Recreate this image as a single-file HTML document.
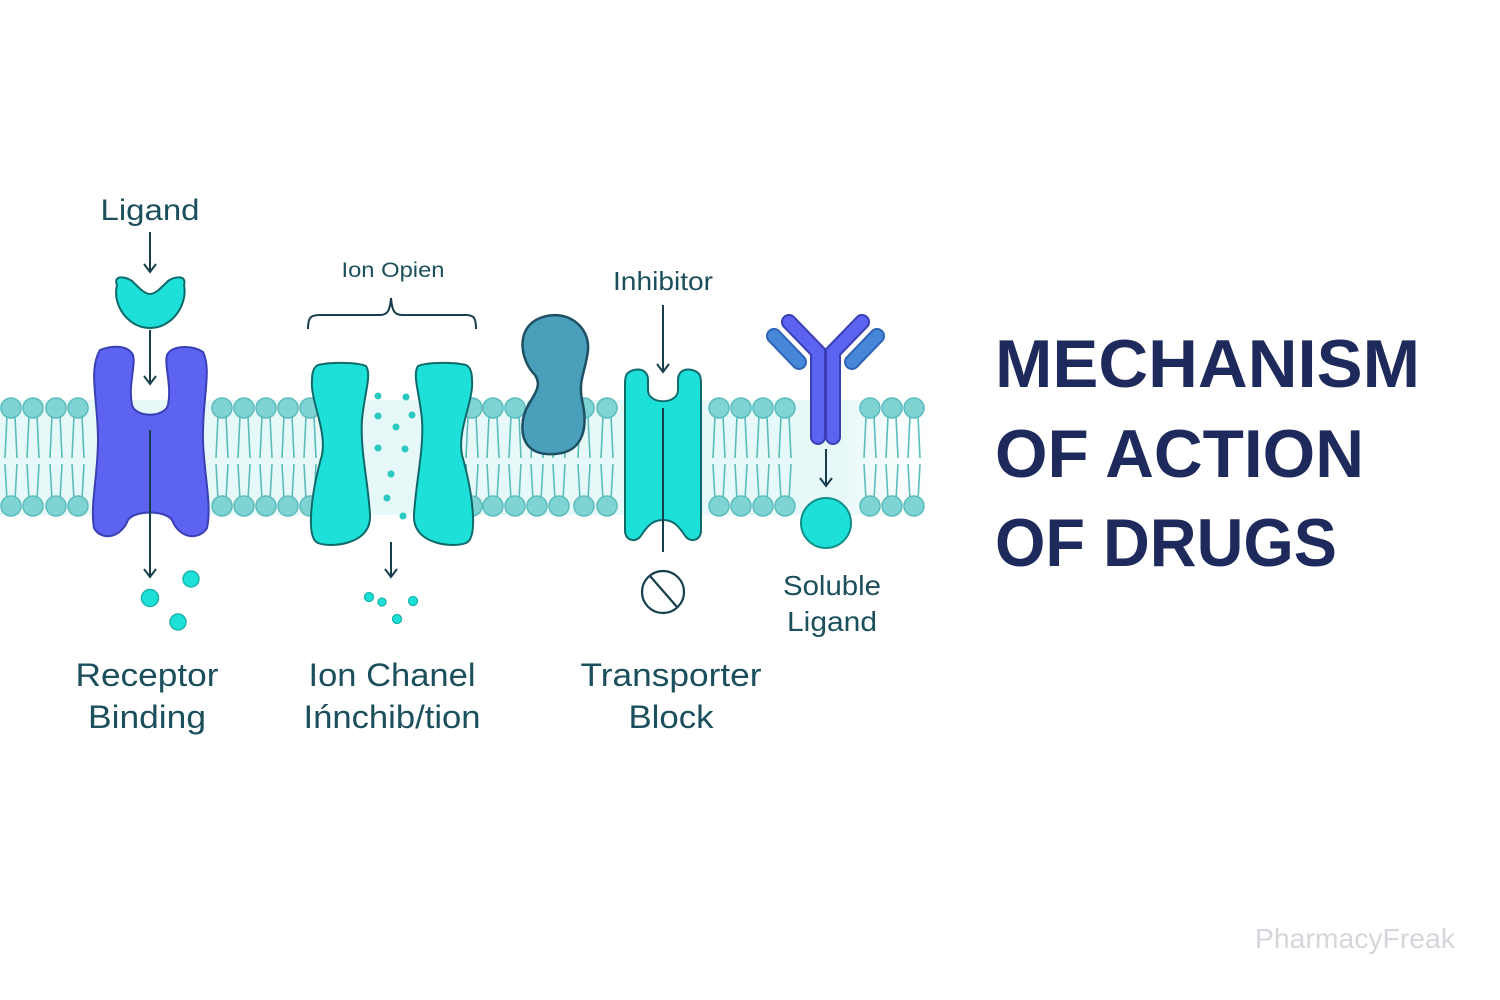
<!DOCTYPE html>
<html><head><meta charset="utf-8"><style>
html,body{margin:0;padding:0;background:#fff;}
svg{display:block;}
</style></head><body>
<svg width="1500" height="1000" viewBox="0 0 1500 1000" xmlns="http://www.w3.org/2000/svg" font-family="Liberation Sans, sans-serif">
<defs>
<linearGradient id="mem" x1="0" x2="1" y1="0" y2="0">
<stop offset="0" stop-color="#e6f8f8"/><stop offset="0.9" stop-color="#e6f8f8"/><stop offset="1" stop-color="#ffffff"/>
</linearGradient>
<g id="lip">
<line x1="-4" y1="8" x2="-6" y2="50" stroke="#5cbcbc" stroke-width="1.6"/>
<line x1="4" y1="8" x2="6" y2="50" stroke="#5cbcbc" stroke-width="1.6"/>
<line x1="-6" y1="56" x2="-4" y2="92" stroke="#5cbcbc" stroke-width="1.6"/>
<line x1="6" y1="56" x2="4" y2="92" stroke="#5cbcbc" stroke-width="1.6"/>
<circle cx="0" cy="0" r="10" fill="#7fd3d3" stroke="#5cbcbc" stroke-width="1.5"/>
<circle cx="0" cy="98" r="10" fill="#7fd3d3" stroke="#5cbcbc" stroke-width="1.5"/>
</g>
<marker id="ah" markerWidth="14" markerHeight="14" refX="10" refY="7" orient="auto" markerUnits="userSpaceOnUse">
<path d="M2,1 L10,7 L2,13" fill="none" stroke="#163e4c" stroke-width="2"/>
</marker>
</defs>
<rect x="0" y="400" width="930" height="115" fill="url(#mem)"/>
<g transform="translate(0,408)">
<use href="#lip" x="11"/><use href="#lip" x="33"/><use href="#lip" x="56"/><use href="#lip" x="78"/>
<use href="#lip" x="222"/><use href="#lip" x="244"/><use href="#lip" x="266"/><use href="#lip" x="288"/><use href="#lip" x="310"/>
<use href="#lip" x="472"/><use href="#lip" x="493"/><use href="#lip" x="515"/><use href="#lip" x="537"/><use href="#lip" x="559"/><use href="#lip" x="584"/><use href="#lip" x="607"/>
<use href="#lip" x="719"/><use href="#lip" x="741"/><use href="#lip" x="763"/><use href="#lip" x="785"/>
<use href="#lip" x="870"/><use href="#lip" x="892"/><use href="#lip" x="914"/>
</g>
<!-- Receptor -->
<text x="150" y="220" font-size="30" fill="#1b4f5c" text-anchor="middle" textLength="99" lengthAdjust="spacingAndGlyphs">Ligand</text>
<line x1="150" y1="232" x2="150" y2="272" stroke="#163e4c" stroke-width="2" marker-end="url(#ah)"/>
<path d="M117,285 C113,275 125,276 132,281 C140,289 145,294 150,294 C155,294 160,289 168,281 C175,276 187,275 184,285 C188,305 172,328 150,328 C128,328 112,305 117,285 Z" fill="#1de0d8" stroke="#0f6b6b" stroke-width="2"/>
<path d="M100,350 C112,345 128,345 133,355 C136,365 128,385 132,405 C136,418 164,418 168,405 C172,385 164,365 167,355 C172,345 192,345 203,352 C212,370 202,400 203,440 C204,475 212,505 207,528 C200,540 180,540 172,520 C165,510 135,510 128,520 C120,540 100,540 94,528 C90,505 98,475 98,440 C98,400 88,370 100,350 Z" fill="#5b63f0" stroke="#3a3fb5" stroke-width="2"/>
<line x1="150" y1="330" x2="150" y2="384" stroke="#163e4c" stroke-width="2" marker-end="url(#ah)"/>
<line x1="150" y1="430" x2="150" y2="577" stroke="#163e4c" stroke-width="2" marker-end="url(#ah)"/>
<circle cx="150" cy="598" r="8.5" fill="#1de0d8" stroke="#1ab5ad" stroke-width="1.5"/>
<circle cx="191" cy="579" r="8" fill="#1de0d8" stroke="#1ab5ad" stroke-width="1.5"/>
<circle cx="178" cy="622" r="8" fill="#1de0d8" stroke="#1ab5ad" stroke-width="1.5"/>
<text x="147" y="686" font-size="32" fill="#1b4f5c" text-anchor="middle" textLength="143" lengthAdjust="spacingAndGlyphs">Receptor</text>
<text x="147" y="728" font-size="32" fill="#1b4f5c" text-anchor="middle" textLength="118" lengthAdjust="spacingAndGlyphs">Binding</text>
<!-- Ion channel -->
<text x="393" y="277" font-size="21" fill="#1b4f5c" text-anchor="middle" textLength="103" lengthAdjust="spacingAndGlyphs">Ion Opien</text>
<path d="M308,329 C308,318 310,315 320,315 L380,315 C388,315 390,310 391,298 C392,310 394,315 402,315 L466,315 C474,315 476,318 476,329" fill="none" stroke="#163e4c" stroke-width="2"/>
<path d="M318,365 C330,362 356,362 366,366 C372,375 364,395 362,420 C360,450 368,480 370,515 C372,545 330,548 318,543 C305,538 312,490 322,455 C327,430 310,400 312,380 C312,372 314,367 318,365 Z" fill="#1de0d8" stroke="#0f6b6b" stroke-width="2"/>
<path d="M466,365 C454,362 428,362 418,366 C412,375 420,395 422,420 C424,450 416,480 414,515 C412,545 454,548 466,543 C479,538 472,490 462,455 C457,430 474,400 472,380 C472,372 470,367 466,365 Z" fill="#1de0d8" stroke="#0f6b6b" stroke-width="2"/>
<g fill="#2ac8c0">
<circle cx="378" cy="396" r="3.5"/><circle cx="406" cy="397" r="3.5"/><circle cx="378" cy="416" r="3.5"/><circle cx="412" cy="415" r="3.5"/>
<circle cx="396" cy="427" r="3.5"/><circle cx="378" cy="448" r="3.5"/><circle cx="405" cy="449" r="3.5"/><circle cx="391" cy="474" r="3.5"/>
<circle cx="387" cy="498" r="3.5"/><circle cx="403" cy="516" r="3.5"/>
</g>
<line x1="391" y1="542" x2="391" y2="577" stroke="#163e4c" stroke-width="2" marker-end="url(#ah)"/>
<g fill="#1de0d8" stroke="#1ab5ad" stroke-width="1.3">
<circle cx="369" cy="597" r="4.5"/><circle cx="382" cy="602" r="4"/><circle cx="413" cy="601" r="4.5"/><circle cx="397" cy="619" r="4.5"/>
</g>
<text x="392" y="686" font-size="32" fill="#1b4f5c" text-anchor="middle" textLength="167" lengthAdjust="spacingAndGlyphs">Ion Chanel</text>
<text x="392" y="728" font-size="32" fill="#1b4f5c" text-anchor="middle" textLength="177" lengthAdjust="spacingAndGlyphs">Ińnchib/tion</text>
<!-- blob -->
<path d="M540,318 C565,308 590,325 588,350 C586,370 578,380 582,400 C588,425 585,452 555,454 C528,456 520,440 523,420 C526,400 545,390 535,375 C520,360 515,328 540,318 Z" fill="#4a9fba" stroke="#1e4f63" stroke-width="2.5"/>
<!-- transporter -->
<text x="663" y="290" font-size="26" fill="#1b4f5c" text-anchor="middle" textLength="100" lengthAdjust="spacingAndGlyphs">Inhibitor</text>
<path d="M634,370 C642,368 648,372 648,380 L648,390 C648,405 678,405 678,390 L678,380 C678,372 684,368 692,370 C700,372 701,376 701,384 L701,530 C701,540 692,543 686,537 C678,525 673,520 663,520 C653,520 648,525 640,537 C634,543 625,540 625,530 L625,384 C625,376 626,372 634,370 Z" fill="#1de0d8" stroke="#0f6b6b" stroke-width="2"/>
<line x1="663" y1="305" x2="663" y2="372" stroke="#163e4c" stroke-width="2" marker-end="url(#ah)"/>
<line x1="663" y1="408" x2="663" y2="552" stroke="#163e4c" stroke-width="2"/>
<circle cx="663" cy="592" r="21" fill="none" stroke="#163e4c" stroke-width="2.2"/>
<line x1="650" y1="576" x2="677" y2="607" stroke="#163e4c" stroke-width="2.2"/>
<text x="671" y="686" font-size="32" fill="#1b4f5c" text-anchor="middle" textLength="181" lengthAdjust="spacingAndGlyphs">Transporter</text>
<text x="671" y="728" font-size="32" fill="#1b4f5c" text-anchor="middle" textLength="85" lengthAdjust="spacingAndGlyphs">Block</text>
<!-- antibody -->
<g stroke-linecap="round" fill="none">
<path d="M818,437 L818,352 L789,322" stroke="#3a3fb5" stroke-width="16"/>
<path d="M833,437 L833,352 L862,322" stroke="#3a3fb5" stroke-width="16"/>
<path d="M818,437 L818,352 L789,322" stroke="#5b63f0" stroke-width="12"/>
<path d="M833,437 L833,352 L862,322" stroke="#5b63f0" stroke-width="12"/>
<path d="M774,336 L799,362" stroke="#2f63b5" stroke-width="16"/>
<path d="M877,336 L852,362" stroke="#2f63b5" stroke-width="16"/>
<path d="M774,336 L799,362" stroke="#4787d8" stroke-width="12"/>
<path d="M877,336 L852,362" stroke="#4787d8" stroke-width="12"/>
</g>
<line x1="826" y1="449" x2="826" y2="486" stroke="#163e4c" stroke-width="2" marker-end="url(#ah)"/>
<circle cx="826" cy="523" r="25" fill="#1de0d8" stroke="#0f8f88" stroke-width="2"/>
<text x="832" y="595" font-size="28" fill="#1b4f5c" text-anchor="middle" textLength="98" lengthAdjust="spacingAndGlyphs">Soluble</text>
<text x="832" y="631" font-size="28" fill="#1b4f5c" text-anchor="middle" textLength="90" lengthAdjust="spacingAndGlyphs">Ligand</text>
<!-- title -->
<g font-size="68" font-weight="bold" fill="#1f2a5c">
<text x="995" y="387" textLength="425" lengthAdjust="spacingAndGlyphs">MECHANISM</text>
<text x="995" y="477" textLength="369" lengthAdjust="spacingAndGlyphs">OF ACTION</text>
<text x="995" y="566" textLength="342" lengthAdjust="spacingAndGlyphs">OF DRUGS</text>
</g>
<text x="1355" y="948" font-size="28" fill="#d3d7db" text-anchor="middle" textLength="200" lengthAdjust="spacingAndGlyphs">PharmacyFreak</text>
</svg>
</body></html>
